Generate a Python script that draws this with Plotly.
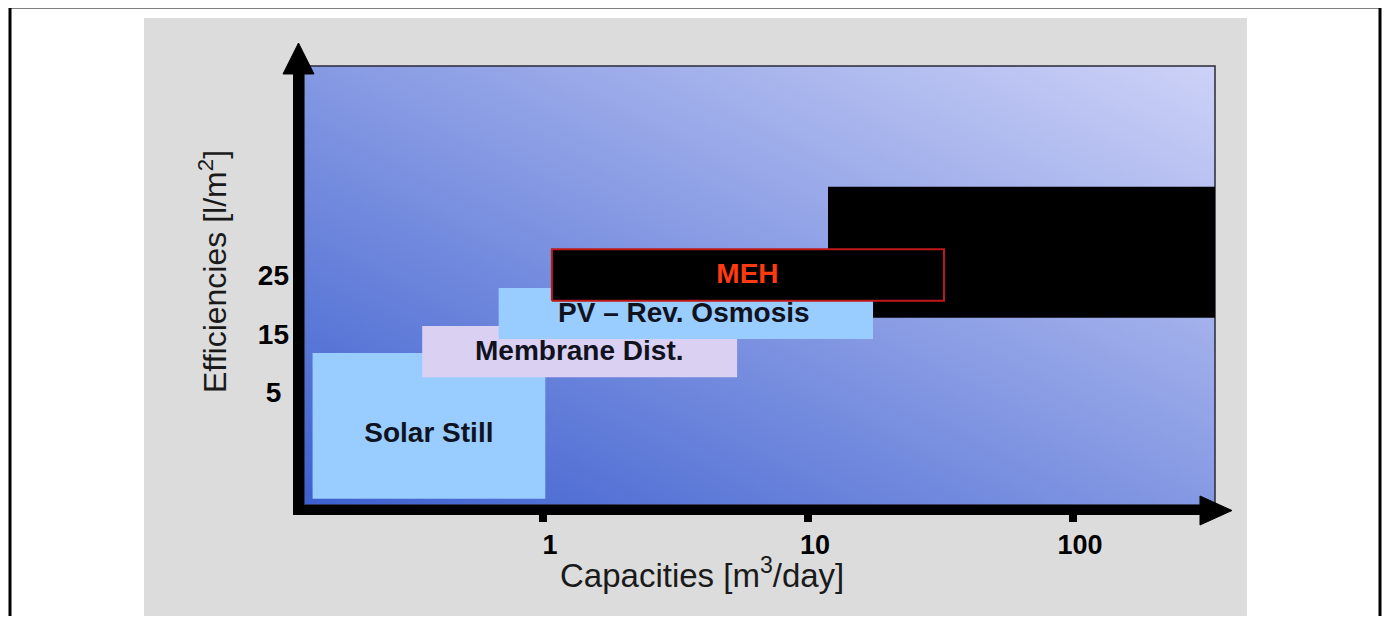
import base64
import plotly.graph_objects as go

# ---------------- data ----------------
labels = ["Solar Still", "Membrane Dist.", "PV – Rev. Osmosis", "MEH"]
cap_min = [0.135, 0.35, 0.68, 1.08]      # capacity, m3/day
cap_max = [1.02, 5.40, 17.6, 32.6]
eff_min = [-13.1, 7.6, 14.1, 20.6]       # efficiency, l/m2 (schematic scale)
eff_max = [11.7, 16.3, 22.8, 29.4]
label_cap = [0.371, 1.37, 3.40, 5.91]
label_eff = [-2.3, 11.8, 18.2, 24.8]

block_cap = [11.9, 345.0]                # unlabelled black block
block_eff = [17.7, 40.0]

x_ticks = [1, 10, 100]
x_tick_text = ["1", "10", "100"]
y_ticks = [5, 15, 25]
y_tick_text = ["5\u00a0", "15", "25"]

x_title = "Capacities [m<sup>3</sup>/day]"
y_title = "Efficiencies [l/m<sup>2</sup>]"

# ---------------- styles ----------------
fills = ["#99CCFF", "#DAD0F2", "#99CCFF", "#000000"]
edge_colors = ["rgba(0,0,0,0)", "rgba(0,0,0,0)", "rgba(0,0,0,0)", "#C01818"]
edge_widths = [0, 0, 0, 2]
text_colors = ["#10121e", "#10121e", "#10121e", "#FF3A10"]
FONT = "Arial, Liberation Sans, sans-serif"

# the page body adds an 8px margin; keep the figure well inside the window
W, H = 1374, 608
REF_L, REF_R, REF_T, REF_B = 304, 1215, 66, 505   # plot area in window pixels
OFF = 8


def px(xp, yp):
    """window pixel -> paper coordinates (decorations only)"""
    return (xp - REF_L) / (REF_R - REF_L), (REF_B - yp) / (REF_B - REF_T)


def rect(x0, x1, y0, y1):
    return [x0, x1, x1, x0, x0], [y0, y0, y1, y1, y0]


fig = go.Figure()

# black block (drawn first, below the labelled ranges)
bx, by = rect(block_cap[0], block_cap[1], block_eff[0], block_eff[1])
fig.add_trace(go.Scatter(x=bx, y=by, mode="lines", fill="toself",
                         fillcolor="#000000", line=dict(width=0),
                         hoverinfo="skip", showlegend=False))

for i in range(len(labels)):
    xs, ys = rect(cap_min[i], cap_max[i], eff_min[i], eff_max[i])
    fig.add_trace(go.Scatter(
        x=xs, y=ys, mode="lines", fill="toself", fillcolor=fills[i],
        line=dict(width=edge_widths[i], color=edge_colors[i]),
        name=labels[i], hoverinfo="name", showlegend=False))

fig.add_trace(go.Scatter(
    x=label_cap, y=label_eff, mode="text", text=labels,
    textposition="middle center",
    textfont=dict(family=FONT, size=28, color=text_colors, weight="bold"),
    hoverinfo="skip", showlegend=False))

# ---------------- background images ----------------
grad_svg = ('<svg xmlns="http://www.w3.org/2000/svg" width="100" height="100" '
            'viewBox="0 0 100 100" preserveAspectRatio="none"><defs>'
            '<linearGradient id="g" x1="0" y1="1" x2="1" y2="0">'
            '<stop offset="0" stop-color="#3D60CF"/>'
            '<stop offset="1" stop-color="#CDD2F7"/></linearGradient></defs>'
            '<rect width="100" height="100" fill="url(#g)"/></svg>')
gray_svg = ('<svg xmlns="http://www.w3.org/2000/svg" width="10" height="10" '
            'viewBox="0 0 10 10" preserveAspectRatio="none">'
            '<rect width="10" height="10" fill="#DCDCDC"/></svg>')


def uri(s):
    return "data:image/svg+xml;base64," + base64.b64encode(s.encode()).decode()


gx0, gy1 = px(144, 18)
gx1, gy0 = px(1247, 617)
images = [
    dict(source=uri(gray_svg), xref="paper", yref="paper", x=gx0, y=gy1,
         sizex=gx1 - gx0, sizey=gy1 - gy0, sizing="stretch",
         xanchor="left", yanchor="top", layer="below"),
    dict(source=uri(grad_svg), xref="paper", yref="paper", x=0, y=1,
         sizex=1, sizey=1, sizing="stretch",
         xanchor="left", yanchor="top", layer="below"),
]


# ---------------- frame, border and axis arrows ----------------
def path(points, close=True):
    s = "M " + " L ".join(f"{a:.5f},{b:.5f}" for a, b in
                          (px(x, y) for x, y in points))
    return s + (" Z" if close else "")


ya0 = px(298.5, 515)
ya1 = px(298.5, 70)
xa0 = px(293, 510)
xa1 = px(1203, 510)
shapes = [
    dict(type="rect", xref="paper", yref="paper", x0=0, x1=1, y0=0, y1=1,
         line=dict(color="#2a2a3a", width=1.5), fillcolor="rgba(0,0,0,0)",
         layer="below"),
    # outer border (left, top, right)
    dict(type="path", xref="paper", yref="paper",
         path=path([(10, 660), (10, 7), (1380, 7), (1380, 660)], close=False),
         line=dict(color="black", width=3)),
    # y axis
    dict(type="line", xref="paper", yref="paper", x0=ya0[0], y0=ya0[1],
         x1=ya1[0], y1=ya1[1], line=dict(color="black", width=11)),
    dict(type="path", xref="paper", yref="paper",
         path=path([(283, 74), (314, 74), (298.5, 43)]),
         fillcolor="black", line=dict(color="black", width=1)),
    # x axis
    dict(type="line", xref="paper", yref="paper", x0=xa0[0], y0=xa0[1],
         x1=xa1[0], y1=xa1[1], line=dict(color="black", width=10)),
    dict(type="path", xref="paper", yref="paper",
         path=path([(1200, 496), (1200, 525), (1232, 510.5)]),
         fillcolor="black", line=dict(color="black", width=1)),
]

# ---------------- axis titles ----------------
xt = px(702, 573)
yt = px(213, 272)
annotations = [
    dict(x=xt[0], y=xt[1], xref="paper", yref="paper", text=x_title,
         showarrow=False, xanchor="center", yanchor="middle",
         font=dict(family=FONT, size=33, color="#1a1a1a")),
    dict(x=yt[0], y=yt[1], xref="paper", yref="paper", text=y_title,
         showarrow=False, xanchor="center", yanchor="middle", textangle=-90,
         font=dict(family=FONT, size=32, color="#1a1a1a")),
]

fig.update_layout(
    width=W, height=H, template="none",
    margin=dict(l=REF_L - OFF, r=W - (REF_R - OFF), t=REF_T - OFF,
                b=H - (REF_B - OFF), pad=0),
    paper_bgcolor="white", plot_bgcolor="#869AE3",
    font=dict(family=FONT, color="#111111"),
    showlegend=False, images=images, shapes=shapes, annotations=annotations,
    xaxis=dict(type="log", range=[-0.902, 2.536], tickvals=x_ticks,
               ticktext=x_tick_text, ticks="outside", ticklen=16, tickwidth=8,
               tickcolor="black", showline=False, showgrid=False, zeroline=False,
               tickfont=dict(family=FONT, size=27, color="black", weight="bold"),
               ticklabelshift=7, automargin=False, fixedrange=True),
    yaxis=dict(range=[-14.15, 60.57], tickvals=y_ticks, ticktext=y_tick_text,
               ticks="", showline=False, showgrid=False, zeroline=False,
               tickfont=dict(family=FONT, size=28, color="black", weight="bold"),
               ticklabelstandoff=14, automargin=False, fixedrange=True),
)

fig.write_html("out.html")
